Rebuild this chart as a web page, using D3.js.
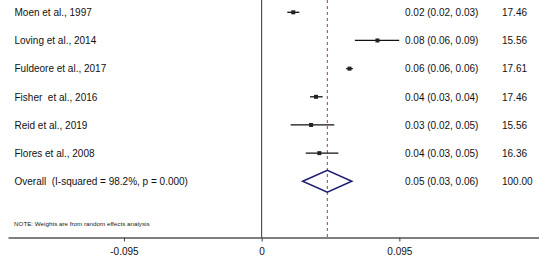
<!DOCTYPE html>
<html>
<head>
<meta charset="utf-8">
<script src="https://cdn.jsdelivr.net/npm/d3@7"></script>
<style>
  body { margin: 0; background: #fff; }
  text { font-family: "Liberation Sans", Arial, sans-serif; white-space: pre; }
</style>
</head>
<body>
<svg id="chart" width="550" height="262"></svg>
<script>
// study rows (last one is the pooled estimate)
var studies = ["Moen et al., 1997", "Loving et al., 2014", "Fuldeore et al., 2017",
  "Fisher  et al., 2016", "Reid et al., 2019", "Flores et al., 2008",
  "Overall  (I-squared = 98.2%, p = 0.000)"]
var estimates = [0.0218, 0.0799, 0.0606, 0.0375, 0.0341, 0.0398, 0.0453]
var lower = [0.0177, 0.0643, 0.0583, 0.0334, 0.0200, 0.0304, 0.0283]
var upper = [0.0260, 0.0949, 0.0629, 0.0421, 0.0501, 0.0529, 0.0622]
var weights = ["17.46", "15.56", "17.61", "17.46", "15.56", "16.36", "100.00"]
var tickValues = [-0.095, 0, 0.095]
var tickLabels = ["-0.095", "0", "0.095"]
var note = "NOTE: Weights are from random effects analysis"

var svg = d3.select("#chart")
var fmt = d3.format(".2f")

var x = d3.scaleLinear().domain([-0.175, 0.191]).range([8, 538.5])
var y = d3.scalePoint().domain(studies).range([12.3, 181.3])
var axisY = 237.5

var rows = studies.map(function(name, i){
  return {name: name, est: estimates[i], lo: lower[i], hi: upper[i], w: weights[i], pooled: i == studies.length - 1}
})

// line of no effect
svg.append("line")
    .attr("x1", x(0)).attr("x2", x(0))
    .attr("y1", 0).attr("y2", axisY)
    .attr("stroke", "#333")
    .attr("stroke-width", 1)

// pooled estimate line
svg.append("line")
    .attr("x1", x(estimates[estimates.length - 1])).attr("x2", x(estimates[estimates.length - 1]))
    .attr("y1", 0).attr("y2", axisY)
    .attr("stroke", "#8a4a4a")
    .attr("stroke-width", 1)
    .attr("stroke-dasharray", "3,3")

/* axis */
var axis = d3.axisBottom(x)
    .tickValues(tickValues)
    .tickFormat(function(d, i){ return tickLabels[i] })
    .tickSize(4)
    .tickSizeOuter(0)
    .tickPadding(6.5)

var gAxis = svg.append("g")
    .attr("transform", "translate(0," + axisY + ")")
    .call(axis)
gAxis.select(".domain").attr("stroke", "#555").attr("stroke-width", 1.3)
gAxis.selectAll(".tick line").attr("stroke", "#444")
gAxis.selectAll(".tick text")
    .attr("fill", "#111")
    .style("font-size", "10px")
    .style("font-family", "Liberation Sans, Arial, sans-serif")

var studyRows = rows.filter(function(d){ return !d.pooled })
var pooled = rows.filter(function(d){ return d.pooled })

// confidence intervals
svg.selectAll(".ci")
    .data(studyRows)
  .enter().append("line")
    .attr("class", "ci")
    .attr("x1", function(d){ return x(d.lo) })
    .attr("x2", function(d){ return x(d.hi) })
    .attr("y1", function(d){ return y(d.name) })
    .attr("y2", function(d){ return y(d.name) })
    .attr("stroke", "#111")
    .attr("stroke-width", 1.3)

svg.selectAll(".box")
    .data(studyRows)
  .enter().append("rect")
    .attr("class", "box")
    .attr("x", function(d){ return x(d.est) - 2 })
    .attr("y", function(d){ return y(d.name) - 2 })
    .attr("width", 4)
    .attr("height", 4)
    .attr("fill", "#222")

// pooled diamond
svg.selectAll(".diamond")
    .data(pooled)
  .enter().append("path")
    .attr("class", "diamond")
    .attr("d", function(d){
      var cy = y(d.name)
      return "M" + x(d.lo) + "," + cy + "L" + x(d.est) + "," + (cy - 11) +
        "L" + x(d.hi) + "," + cy + "L" + x(d.est) + "," + (cy + 11) + "Z"
    })
    .attr("fill", "none")
    .attr("stroke", "#1c1c70")
    .attr("stroke-width", 1.5)

/* text columns */
var labels = svg.selectAll(".row-label")
    .data(rows)
  .enter().append("g")
    .attr("class", "row-label")
    .attr("transform", function(d){ return "translate(0," + (y(d.name) + 3.8) + ")" })

labels.append("text")
    .attr("x", 14.5)
    .attr("font-size", 10)
    .attr("fill", "#111")
    .text(function(d){ return d.name })

labels.append("text")
    .attr("x", 405)
    .attr("font-size", 10)
    .attr("fill", "#111")
    .text(function(d){ return fmt(d.est) + " (" + fmt(d.lo) + ", " + fmt(d.hi) + ")" })

labels.append("text")
    .attr("x", 502)
    .attr("font-size", 10)
    .attr("fill", "#111")
    .text(function(d){ return d.w })

svg.append("text")
    .attr("x", 14)
    .attr("y", 226)
    .attr("font-size", 6.25)
    .attr("fill", "#222")
    .text(note)
</script>
</body>
</html>
